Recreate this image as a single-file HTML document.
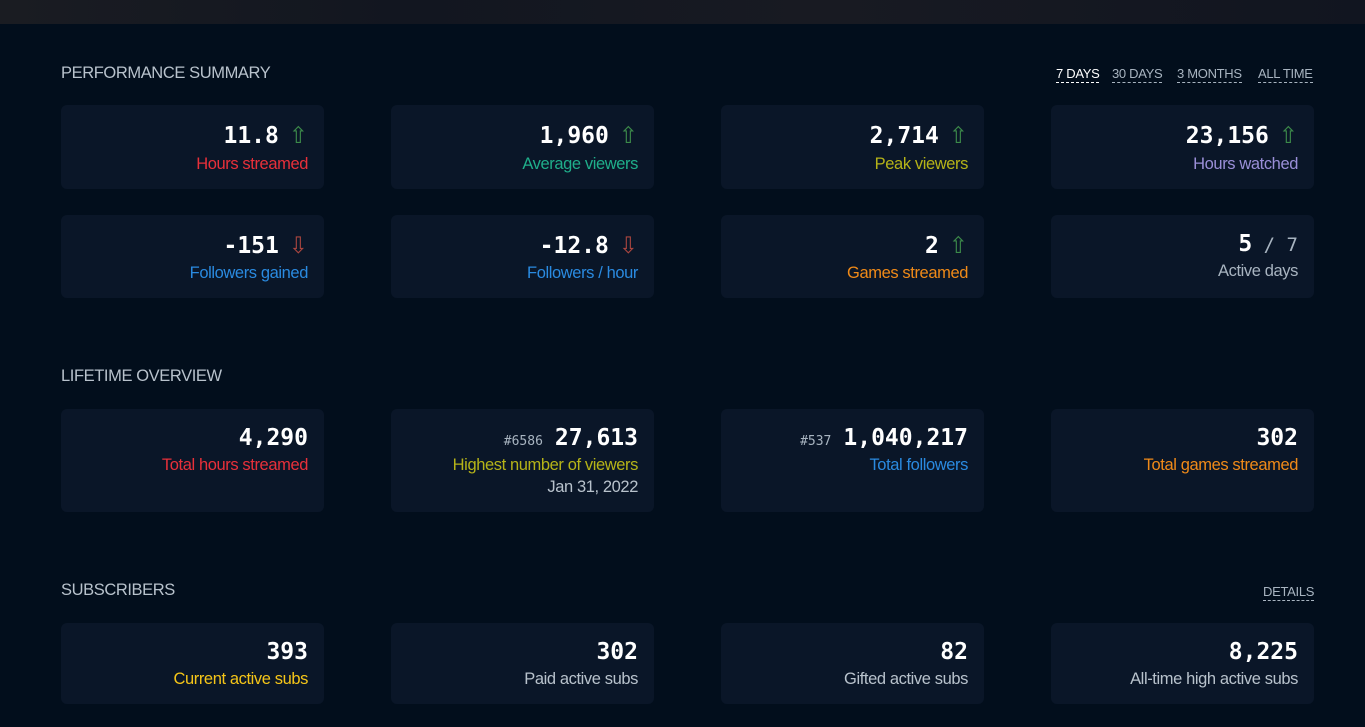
<!DOCTYPE html>
<html><head><meta charset="utf-8"><style>
*{margin:0;padding:0;box-sizing:border-box}
body{width:1365px;height:727px;background:#020e1c;position:relative;overflow:hidden;font-family:"Liberation Sans",sans-serif}
.top{position:absolute;left:0;top:0;width:1365px;height:24px;background:linear-gradient(90deg,#1a1c22,#121620 30%,#181a22 60%,#111520);}
.h{position:absolute;left:61px;color:#b8c2cc;font-size:16.5px;letter-spacing:-0.4px}
.card{position:absolute;width:263px;background:#0a1628;border-radius:6px}
.n{position:absolute;right:16px;font-family:"DejaVu Sans Mono",monospace;font-weight:bold;font-size:23px;color:#fff;white-space:nowrap;line-height:28px}
.l{position:absolute;right:16px;font-size:16.5px;white-space:nowrap;letter-spacing:-0.4px;line-height:20px}
.up{color:#3c8a4a;font-family:"DejaVu Sans",sans-serif;font-weight:normal;font-size:23px;margin-left:-4px}
.dn{color:#a8453f;font-family:"DejaVu Sans",sans-serif;font-weight:normal;font-size:23px;margin-left:-4px}
.rk{font-size:13px;color:#a8b4c0;font-weight:normal;margin-right:12px}
.tab{position:absolute;top:66px;font-size:13px;color:#a8b4c0;border-bottom:1px dashed #a8b4c0;line-height:16px;letter-spacing:-0.3px}
</style></head><body>
<div class="top"></div>
<div class="h" style="top:64px">PERFORMANCE SUMMARY</div>
<div class="tab" style="left:1056px;color:#fff;border-color:#fff">7 DAYS</div>
<div class="tab" style="left:1112px">30 DAYS</div>
<div class="tab" style="left:1177px">3 MONTHS</div>
<div class="tab" style="left:1258px">ALL TIME</div>

<div class="card" style="left:61px;top:105px;height:84px"><div class="n" style="top:17px">11.8 <span class="up">⇧</span></div><div class="l" style="top:49px;color:#e8303a">Hours streamed</div></div>
<div class="card" style="left:391px;top:105px;height:84px"><div class="n" style="top:17px">1,960 <span class="up">⇧</span></div><div class="l" style="top:49px;color:#1fae8a">Average viewers</div></div>
<div class="card" style="left:721px;top:105px;height:84px"><div class="n" style="top:17px">2,714 <span class="up">⇧</span></div><div class="l" style="top:49px;color:#b5b318">Peak viewers</div></div>
<div class="card" style="left:1051px;top:105px;height:84px"><div class="n" style="top:17px">23,156 <span class="up">⇧</span></div><div class="l" style="top:49px;color:#9a8fd8">Hours watched</div></div>

<div class="card" style="left:61px;top:215px;height:83px"><div class="n" style="top:17px">-151 <span class="dn">⇩</span></div><div class="l" style="top:48px;color:#2a8ae0">Followers gained</div></div>
<div class="card" style="left:391px;top:215px;height:83px"><div class="n" style="top:17px">-12.8 <span class="dn">⇩</span></div><div class="l" style="top:48px;color:#2a8ae0">Followers / hour</div></div>
<div class="card" style="left:721px;top:215px;height:83px"><div class="n" style="top:17px">2 <span class="up">⇧</span></div><div class="l" style="top:48px;color:#f08a18">Games streamed</div></div>
<div class="card" style="left:1051px;top:215px;height:83px"><div class="n" style="top:15px">5<span style="font-weight:normal;color:#a8b4c0;font-size:19px"> / 7</span></div><div class="l" style="top:46px;color:#a8b4c0">Active days</div></div>

<div class="h" style="top:367px">LIFETIME OVERVIEW</div>
<div class="card" style="left:61px;top:409px;height:103px"><div class="n" style="top:15px">4,290</div><div class="l" style="top:46px;color:#e8303a">Total hours streamed</div></div>
<div class="card" style="left:391px;top:409px;height:103px"><div class="n" style="top:15px"><span class="rk">#6586</span>27,613</div><div class="l" style="top:46px;color:#b5b318">Highest number of viewers</div><div class="l" style="top:68px;color:#b8c2cc">Jan 31, 2022</div></div>
<div class="card" style="left:721px;top:409px;height:103px"><div class="n" style="top:15px"><span class="rk">#537</span>1,040,217</div><div class="l" style="top:46px;color:#2a8ae0">Total followers</div></div>
<div class="card" style="left:1051px;top:409px;height:103px"><div class="n" style="top:15px">302</div><div class="l" style="top:46px;color:#f08a18">Total games streamed</div></div>

<div class="h" style="top:581px">SUBSCRIBERS</div>
<div class="tab" style="left:1263px;top:584px">DETAILS</div>
<div class="card" style="left:61px;top:623px;height:81px"><div class="n" style="top:15px">393</div><div class="l" style="top:46px;color:#f5c518">Current active subs</div></div>
<div class="card" style="left:391px;top:623px;height:81px"><div class="n" style="top:15px">302</div><div class="l" style="top:46px;color:#b8c2cc">Paid active subs</div></div>
<div class="card" style="left:721px;top:623px;height:81px"><div class="n" style="top:15px">82</div><div class="l" style="top:46px;color:#b8c2cc">Gifted active subs</div></div>
<div class="card" style="left:1051px;top:623px;height:81px"><div class="n" style="top:15px">8,225</div><div class="l" style="top:46px;color:#b8c2cc">All-time high active subs</div></div>
</body></html>
